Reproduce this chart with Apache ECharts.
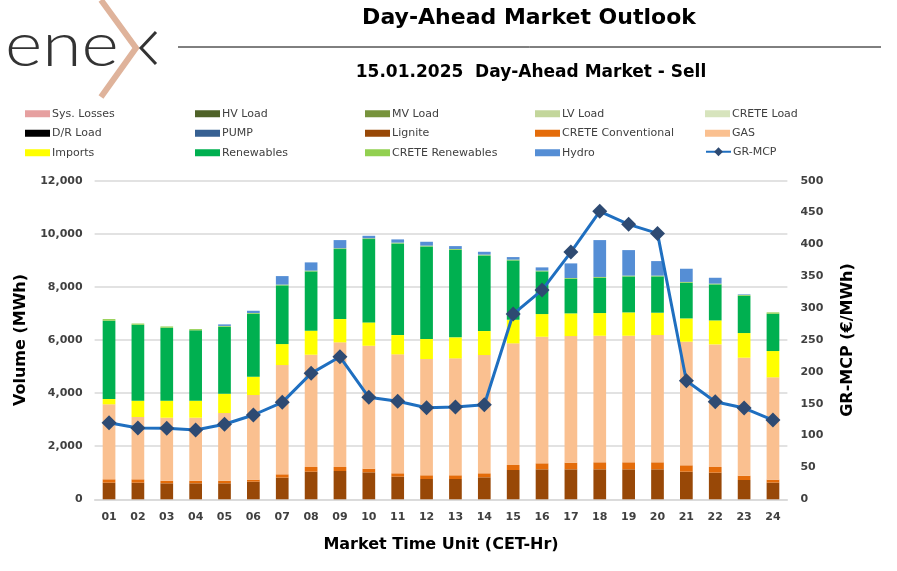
<!DOCTYPE html>
<html><head><meta charset="utf-8">
<script src="https://cdn.jsdelivr.net/npm/echarts@6/dist/echarts.min.js"></script>
<style>html,body{margin:0;padding:0;background:#fff}#c{width:897px;height:571px}</style>
</head><body><div id="c"></div>
<script>
var hours = ['01','02','03','04','05','06','07','08','09','10','11','12','13','14','15','16','17','18','19','20','21','22','23','24'];
var lignite = [625,625,602,602,602,663,815,1040,1066,1016,851,764,764,828,1103,1129,1129,1129,1129,1129,1040,1003,727,627];
var creteConv = [128,128,98,98,98,77,126,176,150,136,128,140,140,151,189,226,251,264,264,264,240,213,162,113];
var gas = [2824,2346,2373,2373,2549,3187,4115,4229,4695,4631,4480,4378,4404,4454,4581,4767,4768,4767,4767,4793,4656,4618,4444,3854];
var imports = [199,614,640,640,727,689,791,904,877,880,727,753,791,904,890,855,855,855,880,842,877,904,929,990];
var renewables = [2949,2862,2749,2650,2524,2372,2210,2235,2636,3137,3452,3490,3299,2849,2235,1607,1303,1329,1355,1367,1344,1356,1405,1404];
var creteRen = [63,45,48,47,30,30,30,30,30,30,30,30,30,30,30,30,30,30,30,30,30,30,30,52];
var hydro = [0,0,0,0,58,83,320,309,309,95,121,145,109,107,95,121,549,1389,961,547,497,220,21,0];
var mcp = [120.2,111.9,111.4,108.7,117.7,132.3,152.2,197.7,223.7,160.0,153.8,143.7,144.8,148.4,290.7,328.4,388.0,451.9,431.5,417.3,186.0,153.2,143.2,124.4];
var volTicks = {min:0, max:12000, interval:2000};
var priceTicks = {min:0, max:500, interval:50};

var FONT = 'DejaVu Sans';
var chart = echarts.init(document.getElementById('c'), null, {renderer:'canvas'});

function barS(name, color, data){
  return {name:name, type:'bar', stack:'total', data:data, barWidth:'44%',
    itemStyle:{color:color}, emphasis:{disabled:true}};
}
var series = [
  barS('Sys. Losses','#e6a0a0',[]),
  barS('HV Load','#4f6228',[]),
  barS('MV Load','#77933c',[]),
  barS('LV Load','#c3d69b',[]),
  barS('CRETE Load','#d7e4bd',[]),
  barS('D/R Load','#000000',[]),
  barS('PUMP','#366092',[]),
  barS('Lignite','#984807',lignite),
  barS('CRETE Conventional','#e46c0a',creteConv),
  barS('GAS','#fac090',gas),
  barS('Imports','#ffff00',imports),
  barS('Renewables','#00b050',renewables),
  barS('CRETE Renewables','#92d050',creteRen),
  barS('Hydro','#558ed5',hydro),
  {name:'GR-MCP', type:'line', yAxisIndex:1, data:mcp, symbol:'diamond', symbolSize:15,
   lineStyle:{color:'#1f6fc0', width:3}, itemStyle:{color:'#2e4a72'}, z:5}
];

function leg(left, top, names, h){
  return {left:left, top:top, padding:0, orient:'vertical', itemWidth:25, itemHeight:h||7, itemGap:6,
    selectedMode:false, data:names.map(function(n){return {name:n, icon: n==='GR-MCP'?undefined:'rect'};}),
    textStyle:{fontFamily:FONT, fontSize:11, color:'#404040', padding:[0,0,0,-3], lineHeight:13.5}};
}

var axisLabelStyle = {fontFamily:FONT, fontSize:11, fontWeight:'bold', color:'#404040'};
var nameStyle = {fontFamily:FONT, fontSize:16, fontWeight:'bold', color:'#000'};

chart.setOption({
  animation:false,
  backgroundColor:'#fff',
  grid:{left:94.6, right:109.6, top:180.7, bottom:71.7, containLabel:false},
  legend:[
    leg(25,107,['Sys. Losses','D/R Load','Imports']),
    leg(195,107,['HV Load','PUMP','Renewables']),
    leg(365,107,['MV Load','Lignite','CRETE Renewables']),
    leg(535,107,['LV Load','CRETE Conventional','Hydro']),
    leg(705,107,['CRETE Load','GAS']),
    leg(705,145,['GR-MCP'],11)
  ],
  xAxis:{type:'category', data:hours, axisTick:{show:false},
    axisLine:{lineStyle:{color:'#d9d9d9', width:1.5}},
    axisLabel:Object.assign({margin:12}, axisLabelStyle),
    name:'Market Time Unit (CET-Hr)', nameLocation:'middle', nameGap:38, nameTextStyle:nameStyle},
  yAxis:[
    {type:'value', min:volTicks.min, max:volTicks.max, interval:volTicks.interval,
     axisLine:{show:false}, axisTick:{show:false},
     splitLine:{lineStyle:{color:'#d9d9d9', width:1.5}},
     axisLabel:Object.assign({margin:12}, axisLabelStyle),
     name:'Volume (MWh)', nameLocation:'middle', nameGap:62, nameRotate:90, nameTextStyle:nameStyle},
    {type:'value', min:priceTicks.min, max:priceTicks.max, interval:priceTicks.interval,
     position:'right', axisLine:{show:false}, axisTick:{show:false}, splitLine:{show:false},
     axisLabel:Object.assign({margin:13}, axisLabelStyle),
     name:'GR-MCP (€/MWh)', nameLocation:'middle', nameGap:52, nameRotate:90, nameTextStyle:nameStyle}
  ],
  series:series,
  graphic:[
    {type:'text', x:5, y:46, scaleX:1.17, scaleY:1, style:{text:'ene', fontFamily:'Lato', fontWeight:300, fontSize:61, fill:'#333', verticalAlign:'middle'}},
    {type:'polyline', shape:{points:[[101,0],[136,48],[101,97]]}, style:{stroke:'#dfb39b', lineWidth:6, fill:null}},
    {type:'polyline', shape:{points:[[156,32],[141,48],[156,64]]}, style:{stroke:'#333', lineWidth:3, fill:null}},
    {type:'line', shape:{x1:178, y1:47, x2:881, y2:47}, style:{stroke:'#000', lineWidth:1}},
    {type:'text', x:529, y:18, style:{text:'Day-Ahead Market Outlook', fontFamily:FONT, fontWeight:'bold', fontSize:22, fill:'#000', align:'center', verticalAlign:'middle'}},
    {type:'text', x:531, y:73, style:{text:'15.01.2025  Day-Ahead Market - Sell', fontFamily:FONT, fontWeight:'bold', fontSize:17, fill:'#000', align:'center', verticalAlign:'middle'}}
  ]
});
</script></body></html>
